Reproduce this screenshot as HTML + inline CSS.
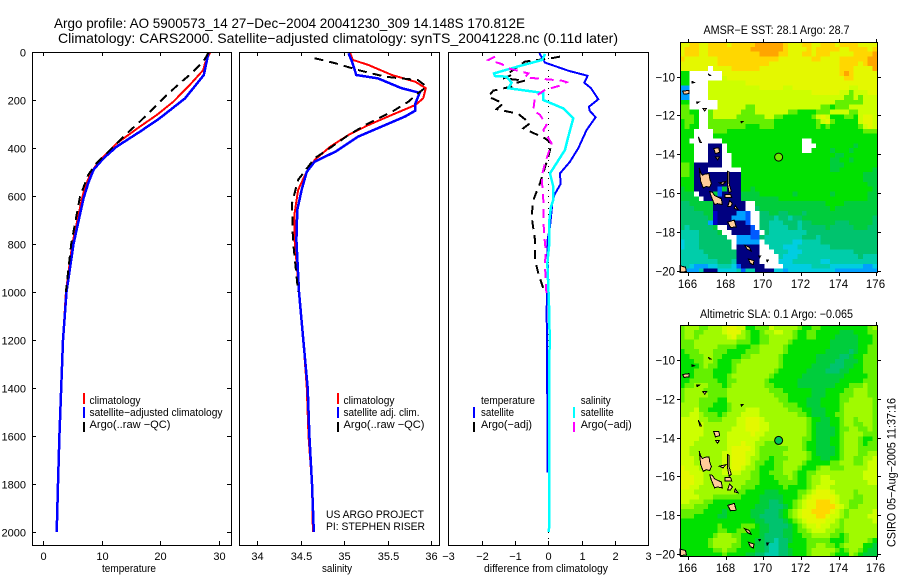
<!DOCTYPE html>
<html>
<head>
<meta charset="utf-8">
<title>Argo profile</title>
<style>
html,body{margin:0;padding:0;background:#fff}
svg{display:block}
text{font-family:"Liberation Sans",sans-serif;font-size:11px;fill:#000}
.t{font-size:14px}
.m{font-size:11.5px}
</style>
</head>
<body>
<svg id="chart" width="900" height="580" viewBox="0 0 900 580" xmlns="http://www.w3.org/2000/svg">
<rect width="900" height="580" fill="#fff"/>
<text class="t" x="54" y="28" textLength="471" lengthAdjust="spacingAndGlyphs">Argo profile: AO 5900573_14 27−Dec−2004 20041230_309 14.148S 170.812E</text>
<text class="t" x="58" y="43" textLength="560" lengthAdjust="spacingAndGlyphs">Climatology: CARS2000. Satellite−adjusted climatology: synTS_20041228.nc (0.11d later)</text>
<g id="layer"></g>
<g>
<text x="89.5" y="404" textLength="51" lengthAdjust="spacingAndGlyphs">climatology</text>
<text x="89.5" y="416" textLength="133" lengthAdjust="spacingAndGlyphs">satellite−adjusted climatology</text>
<text x="89.5" y="428" textLength="81" lengthAdjust="spacingAndGlyphs">Argo(..raw −QC)</text>
<rect x="83" y="393" width="2" height="11" fill="#f00"/><rect x="83" y="407" width="2" height="11" fill="#00f"/><rect x="83" y="422" width="2" height="10" fill="#000"/>
</g>
<g>
<text x="343.5" y="404" textLength="51" lengthAdjust="spacingAndGlyphs">climatology</text>
<text x="343.5" y="416" textLength="76" lengthAdjust="spacingAndGlyphs">satellite adj. clim.</text>
<text x="343.5" y="428" textLength="81" lengthAdjust="spacingAndGlyphs">Argo(..raw −QC)</text>
<rect x="337" y="393" width="2" height="11" fill="#f00"/><rect x="337" y="407" width="2" height="11" fill="#00f"/><rect x="337" y="422" width="2" height="10" fill="#000"/>
<text x="326" y="518" textLength="98" lengthAdjust="spacingAndGlyphs">US ARGO PROJECT</text>
<text x="326" y="530" textLength="99" lengthAdjust="spacingAndGlyphs">PI: STEPHEN RISER</text>
</g>
<g>
<text x="481" y="404" textLength="54" lengthAdjust="spacingAndGlyphs">temperature</text>
<text x="481" y="416" textLength="33" lengthAdjust="spacingAndGlyphs">satellite</text>
<text x="481" y="428" textLength="51" lengthAdjust="spacingAndGlyphs">Argo(−adj)</text>
<rect x="473" y="407" width="2" height="11" fill="#00f"/><rect x="473" y="422" width="2" height="10" fill="#000"/>
<text x="580.7" y="404" textLength="30" lengthAdjust="spacingAndGlyphs">salinity</text>
<text x="580.7" y="416" textLength="33" lengthAdjust="spacingAndGlyphs">satellite</text>
<text x="580.7" y="428" textLength="51" lengthAdjust="spacingAndGlyphs">Argo(−adj)</text>
<rect x="573" y="407" width="2" height="11" fill="#0ff"/><rect x="573" y="422" width="2" height="10" fill="#f0f"/>
</g>
<text x="129" y="572" text-anchor="middle" textLength="54" lengthAdjust="spacingAndGlyphs">temperature</text>
<text x="337" y="572" text-anchor="middle" textLength="30" lengthAdjust="spacingAndGlyphs">salinity</text>
<text x="546" y="572" text-anchor="middle" textLength="124" lengthAdjust="spacingAndGlyphs">difference from climatology</text>
<text class="m" x="776.5" y="34" text-anchor="middle" textLength="146" lengthAdjust="spacingAndGlyphs">AMSR−E SST: 28.1 Argo: 28.7</text>
<text class="m" x="776.5" y="318" text-anchor="middle" textLength="153" lengthAdjust="spacingAndGlyphs">Altimetric SLA: 0.1 Argo: −0.065</text>
<text class="m" transform="translate(895.5,547) rotate(-90)" textLength="149" lengthAdjust="spacingAndGlyphs">CSIRO 05−Aug−2005 11:37:16</text>
</svg>
<script>
// ---- profile data (depth in m) ----
const tempTicks = [0, 10, 20, 30];
const salTicks = ['34', '34.5', '35', '35.5', '36'];
const diffTicks = [-3, -2, -1, 0, 1, 2, 3];
const depthTicks = [0, 200, 400, 600, 800, 1000, 1200, 1400, 1600, 1800, 2000];
const lonTicks = [166, 168, 170, 172, 174, 176];
const latTicks = [-10, -12, -14, -16, -18, -20];

const tempClimDepth = [3,47,75,137,207,262,311,381,450,498,561,617,800,1000,1200,1400,1600,1800,2000];
const tempClim = [28.45,27.6,27.3,25,22.2,19.4,16.5,12.55,9.7,8.3,7.15,6.6,5,3.9,3.4,3.1,2.8,2.55,2.33];
const tempSatDepth = [3,96,193,276,332,394,443,491,547,610,800,1000,1200,1400,1600,1800,2000];
const tempSat = [28.2,27.4,24.2,19.9,16.5,12.55,10.3,8.6,7.7,6.9,5.2,4,3.4,3.1,2.8,2.55,2.33];
const tempArgoDepth = [3,40,89,130,186,235,290,346,422,464,512,603,800,1000];
const tempArgo = [28.2,27.3,25.3,23.3,20.8,18.8,16.5,14,10.85,9.1,7.7,6.3,4.8,3.9];

const salClimDepth = [5,33,54,96,124,151,193,221,262,304,346,394,450,512,575,672,783,1000,1200,1400,1600,1800,2000];
const salClim = [35.07,35.1,35.28,35.55,35.82,35.94,35.91,35.82,35.55,35.28,35.05,34.84,34.66,34.55,34.47,34.43,34.43,34.48,34.53,34.57,34.59,34.63,34.64];
const salSatDepth = [5,40,96,110,151,170,214,244,269,311,353,415,457,499,575,658,783,1000,1200,1400,1600,1800,2000];
const salSat = [35.05,35.09,35.14,35.39,35.66,35.87,35.82,35.82,35.7,35.43,35.16,34.9,34.66,34.57,34.51,34.46,34.45,34.48,34.53,34.58,34.6,34.63,34.65];
const salArgoDepth = [26,47,75,103,117,144,172,207,249,297,346,394,443,533,630,783,1000];
const salArgo = [34.66,34.9,35.16,35.47,35.85,35.95,35.85,35.74,35.55,35.28,35.05,34.86,34.66,34.47,34.4,34.41,34.47];

const dTempSatDepth = [5,44,78,99,128,151,197,228,244,272,325,401,457,506,550,596,631,686,728,783,867,950,1005,1089,1186,1753];
const dTempSat = [-0.27,-0.1,0.6,1.18,1.08,1.28,1.5,1.22,1.24,1.42,1.15,0.9,0.65,0.35,0.37,0.18,0.12,0.08,0.05,-0.02,-0.02,0,-0.04,-0.05,-0.04,-0.02];
const dTempArgoDepth = [19,26,40,89,96,110,119,130,144,161,186,214,238,258,297,318,360,381,408,436,547,617,686,783,867,922,985];
const dTempArgo = [0.35,0.1,-0.7,-1.2,-1.1,-1.35,-0.7,-1,-1.1,-1.65,-1.8,-1.35,-1.55,-0.9,-0.55,-0.75,-0.1,0.1,0.05,0,-0.25,-0.45,-0.5,-0.4,-0.4,-0.3,-0.15];
const dSalSatDepth = [8,33,58,89,100,103,128,151,168,172,200,235,276,353,408,506,561,617,644,714,811,881,978,1089,1186,1367,2000];
const dSalSat = [-0.1,-0.18,-0.85,-1.63,-1.6,-1.25,-1.1,-1.2,-0.3,-0.15,-0.15,0.45,0.75,0.6,0.5,0.05,0.15,0.15,0.08,0.02,0.02,-0.03,0,0.03,0.04,0.03,0.02];
const dSalArgoDepth = [19,33,50,68,89,106,119,126,142,158,186,242,262,304,325,381,464,519,617,697,767,822,892,978,1020];
const dSalArgo = [-1.6,-1.8,-1.4,-1.2,-0.6,-0.7,0.4,0.55,0.3,-0.1,-0.4,-0.45,-0.25,-0.05,-0.15,0.1,-0.1,-0.2,-0.15,-0.15,-0.12,-0.08,-0.1,-0.07,-0.05];

// ---- map data: level codes, 0.25 degree cells, north to south ----
const sstRows = [
"YYooYYooooYoooooOOOOOOoYYYooYYoooYooooYYYY",
"YoooYYoooooooooOOOOOOOoYYYYoYoooooYYooooYo",
"YoooYYoooooooooooOOOOooYYYooYoooYYYYYooooO",
"oYYYYYYYoooooooooooooYYYYYYYooYYYYooooooOO",
"YYYYYYYYoooooooooooYYYYYYYYYYYYYYYooooYoOO",
"YYYYYYWYYYYooooooYYYYYYYYYYYYYYYYYoooYYYYO",
"GGWWWWWWWYYYYYYYYYYYYYYYYYYYYYYYYYoOoYYYYY",
"GGWWWWWWWyYYYYYYYYYYYYYYYYYYYYYYYYYooYYYYY",
"GGWWWWyyyyyyyyYYYYYYYYYYYYYYYYYYYYYYYYYYYY",
"aaWWWWyyyyyyyyyyyYYYYYyyYYYYYYYYYYYYyyYYYY",
"aaWWWWyyyyyyyyyyyyyyyyyyyyyyYYYYYYyylyyyYY",
"aaWWWWyyyyyyyyyyyyyyyyyyyyyyyyyyyyyllylyyy",
"GGWWWWWWyyyyyyyyyyyyyyyyyyyyyyyyyllllllyyy",
"llWWWWWWyyyyyyllyyyyyyyyyyyyyyllGlllyyyyyy",
"llGGWWlyyyyyylllyyyyyyyllGGGGlllyyyyllyyyy",
"lllGWWlyyyyyllllllyyllGGGGGGlyYyGGGllGyYYy",
"GllGWWllllllllllllllGGGGGGGGGlyYlGGGGGyYYy",
"GlGGWWllllllllGGGlllGGGGGGGGGlGlGGGGGGlyYy",
"GGGWWWWlllGGGGGGGGGGGGGGGGGGGGGGGGGGGGGlll",
"GGGWWWWGGGGGGGGGGGGGGGGGGGGGGGGGGGGGGGGGGG",
"GGWWWWWWWGGGGGGGGGGGGGGGGGWWGGGGGGGGGGGGGG",
"GGGWWWnnnWGGGGGGGGGGGGGGGGWWWGGGGGGGGeGGGG",
"GGGWWWnnnWGGGGGGGGGGGGGGGGWWGGGGeGGGeGGGGG",
"GGGWWWnnnWWGGGGGGGGGGGGGGGGGGGGGGeeGGGGGGG",
"GGGWWWnnnWWGGGGGGGGGGGGGGGGGGGGGeeGGeGGGGG",
"llGnnnnnnWWGGGGGGGGGGGGGGGGGGGGGeeeGGGGGGG",
"llGnnnWWWWWWWGGGGGGGGGGGGGGGGGGGeeGGGGGGGe",
"llGnnnnnnnnnnGGGGGGGGGGGGGGGGGGGGGGGGGGeee",
"GGGnnnnnnnnnnGGGGGGGGGGGGGGGGGGGGGGGGGGeee",
"GGGnnnnnnnnnnGGGGGGGGGGGGGGGGGGGGGGGGGGGee",
"eGGnnnnnbennnGGeGGGGGGGGGGGGGGGGGGGGGGGGGe",
"eeeWnnnebnnnneeeeGGGGGGGeGGGGGGGeGGGGGGGee",
"eeeeWnndnnnnneeeeeeeeGGGGGGGGGGGGGGGGGGGee",
"sseeeeennnnnnnWWeeeeeeeeeeeeeeeGGGGeeeeeee",
"ssseeeennnnnnnWWseeeeeeeeeeeeeeeGeeeeeeeee",
"ssssseednnnnaabWWsseesseeeseeeeeeeeeeeeeee",
"ssssssednnnaaabWWssstsstsseeeeeeeeeeeeeees",
"ssssssadnnnnnnbWWsstttssstsseeeeessseeeees",
"stssssseWWnnnnnbWssttttsstsssssessssseeess",
"ttttsssseWWnnnnbbWsttttttttsssssssssssssss",
"ttttssssssWWaaabbsttttttttssstssssssssssss",
"ctttsssssssWaaaaaWttttttccttttssssssssssss",
"ctttsssssssWnnnnnWWtttccctttttttssssssssss",
"tttttsssssssnnnnnWWWtttccctttttttttttsssss",
"ttttttssssssnnnnnWWWWtccctttttttttttttsttt",
"ttttttttssstnnnnnWWWWcccttttttcctttttttttt",
"ttcaaacctttcbnnnnnWWWWccccccttttcccccccaac",
"taaatnnncccctbttnnnnccaccccccccccaaaaaaaaa"
];
const slaRows = [
"lmmmllmmmyYYyyGGlllymmmmmlGGllGGGGGGGGGGlm",
"lmmllmmmmyYYYmlGGlmmyymmlGGllGGGGGeeeGGGll",
"lmmlmmmmmmyYmmlGGllmmmmmlGGllGGGGeeeeeGGGl",
"lllmmmmmmmmmlllGGllmmmmlGGGGGGGGeeeeeeGGGl",
"lllmmmmmllllGGGllmmmmmlGGGGGGGGGeeeeeeGGll",
"GlllmmmlllGGGGlllmmmmmlGGGGGGGGeeeeeseGGll",
"GGlllmmllGGGGllmmmmmmlGGGGGGGeeeeesseGGlll",
"GGGllmmlGGGllmmmmmmmmlGGGGGGGeeeesseeeGlll",
"GGGGlmllGGGlmmmmmmmmmlGGGGGGeeeessseeGGlll",
"GGGllllGGGGlmmmmmmmmlGGGGGGeeeessseeGGGlll",
"GGGllllGGGlmmmmmmmmlGGGGGGeeeeeeeeeGGGGGll",
"GGllllllGGllmmmmmmlGGGGGGeeeeeeeeeGGGGGlll",
"GllmmmlllGlmmmmmmmllGGGGGeeeeeeeeGGGlllmll",
"lmmmmlllllmmmmmmmmmlllGGGGGGeeeGGGGllmmmll",
"lmmmmmllllmmmmmmmmmmlllGGGGGeeeGGGlllmmmll",
"lmmmllllGGmmmmmmmmmmmllGGGGeeeGGGGllmmmmml",
"mmmmlllGGGlmmmmmmmmmmmlllGGeeeGGGGlmmmmmml",
"mmmyllGGGGlmmmyyymmmmmmlllGGeeeGGGlmmmmmml",
"mmyymlllGlmmmyyyymmmmmmmmllGeeeGGllmmmmmml",
"yyyymmlllmmmyyYYYymmmmmmmmmlGGeeGGlmmlmmml",
"yyyyymmmmmmmyyYYYyymmmmmmmmlGeeeGGlmmllmml",
"yyyyymmmmmmyyyYYYyymmmmmmmmlGeeeeGllmmllml",
"yyyyymmmmmyyyyyYyymmmmmmmmmlGeeeeGlmmmmlll",
"yyyymmmmmmyyyyyyymmmmmmmmmllGeeeGGlmmmlGGl",
"yyymmmmmmmyyyYyymmlllmmmmmlGGeeeGGlmmmlGll",
"yymmmmmmmmyYYYYymllllllmmmlGGeeeeGlmmmllll",
"yymmmmmmmyyYYYyymlllllmmmmmlGeeeeGlmmmllmm",
"yyymmmmmmyyYYYymmllGlllmmmmlGGeeGGlmmllmmy",
"yyymmmmmmyyYYYymllGGllmmmmlGGGGGllmmmllmyy",
"YyyymmmmmyyYYymmlGGGllmmmlGGGlmmlllmmmmmyy",
"YYyyymmmmyyyymmllGGlllmmlGGllmmmmmmmmmmyyy",
"YYYyymmmmmmmmmmllGGGlllmlGGlmmyymmmmmmmyyy",
"YYYyymmmmmmmmmlllGGGGllllGGlmmyyymmmmmmmyy",
"YYyymmmmmmmmmlllGGGGGGlGGGGlmyyymmmmmmmmmm",
"yyymmmmmmmmmllGGGGeeeGGGGllmyYYYymmmmlmmmm",
"yyyymmmllllllGGGGeeeeeGGGlmyYYYYYymmmllmmm",
"yymmmllGGGGGGGGGGeesseGGlmyYYoooYymmlllmmm",
"mmmlllGGGGGGGGGGeeessseGlmyYYooooYymllmmmm",
"lllllGGGGeGGGGGeeessseGlmyYYooooYymlmmmmmy",
"lllGGGGGeeGGGGGeesssseGlmyYYYooYyymlmmmmyy",
"GGGGGGGGGGGGGGGGeesssseGlmyYYYYyymlmmmmmmy",
"GGGGGGGGlGGGGlllGeesssseGlmyyYyymmlmmmmmmm",
"GGGGGGGGllGGlllGGeessseeGllmyyymmllmmmmmmm",
"GGGGGGGlmmmllGGGGesssseeGGllmmmmllGlmmmmmm",
"GGGGGGlmmmmmlGGGeesstsseGGGlllllGGGlmmmmlG",
"GGGGGGlmmmmllGGGeesttssGGGGllmmllGlmmmmGGe",
"GGGGGGGllmllGGGGeesttsseGGGlmmmmmlGlmmlGee",
"GGGGGGGGGlGGGGeesstttsseGGGlmmmmlGGGmlGeee"
];
// island outlines as lon,lat pairs
const islands = [
[[166.58,-14.7],[166.66,-14.95],[166.75,-15.08],[166.9,-15.02],[167.1,-15.0],[167.15,-15.3],[167.23,-15.5],[167.14,-15.7],[166.95,-15.66],[166.8,-15.75],[166.66,-15.4]],
[[167.14,-15.93],[167.28,-15.95],[167.4,-16.13],[167.76,-16.3],[167.81,-16.6],[167.55,-16.55],[167.4,-16.6],[167.23,-16.2]],
[[168.09,-14.88],[168.18,-14.93],[168.16,-15.48],[168.29,-15.91],[168.18,-16.0],[168.09,-15.57]],
[[167.65,-15.48],[168.0,-15.4],[167.85,-15.57]],
[[167.95,-16.07],[168.25,-16.07],[168.31,-16.24],[167.95,-16.24]],
[[168.2,-16.4],[168.35,-16.55],[168.25,-16.7],[168.1,-16.7]],
[[168.5,-16.65],[168.65,-16.85],[168.45,-16.8]],
[[168.1,-17.5],[168.45,-17.4],[168.55,-17.75],[168.25,-17.78]],
[[169.0,-18.7],[169.25,-18.8],[169.35,-19.0],[169.14,-18.9]],
[[169.2,-19.4],[169.5,-19.5],[169.46,-19.7],[169.3,-19.63]],
[[165.7,-10.75],[166.05,-10.7],[166.05,-10.87],[165.77,-10.9]],
[[166.77,-11.63],[166.97,-11.63],[166.88,-11.77]],
[[167.35,-13.7],[167.62,-13.68],[167.67,-13.9],[167.45,-13.97]],
[[167.45,-14.15],[167.65,-14.15],[167.56,-14.3]],
[[166.53,-13.1],[166.7,-13.4],[166.62,-13.4]],
[[166.44,-11.3],[166.58,-11.3],[166.47,-11.38]],
[[167.06,-9.85],[167.2,-9.95],[167.12,-9.95]],
[[166.2,-10.25],[166.33,-10.3],[166.2,-10.33]],
[[168.8,-12.3],[168.92,-12.3],[168.83,-12.38]],
[[169.75,-19.25],[169.85,-19.25],[169.8,-19.33]],
[[170.17,-19.45],[170.27,-19.45],[170.2,-19.55]],
[[165.55,-19.75],[165.85,-19.83],[165.9,-20.05],[165.55,-20.1]]
];
const argoLon = 170.81;
const argoLat = -14.15;
const sstMarkerColor = 'rgb(110,235,0)';
const slaMarkerColor = 'rgb(0,195,90)';

// ---- drawing ----
const NS = 'http://www.w3.org/2000/svg';
const layer = document.getElementById('layer');
function mk(tag, attrs, parent, txt) {
  const e = document.createElementNS(NS, tag);
  for (const k in attrs) e.setAttribute(k, attrs[k]);
  if (txt !== undefined) e.textContent = txt;
  (parent || layer).appendChild(e);
  return e;
}
const yDepth = d => 52 + d * 0.24;
const xTemp = v => 43 + v * 5.87;
const xSal = v => 257.3 + (v - 34) * 86.85;
const xDiff = v => 548.3 + v * 33.33;

function profile(name, xf, ds, vs, color, dash, parent, w) {
  const pts = vs.map((v, i) => xf(v).toFixed(1) + ',' + yDepth(ds[i]).toFixed(1)).join(' ');
  const a = {points: pts, fill: 'none', stroke: color, 'stroke-width': w || 2, 'shape-rendering': 'crispEdges'};
  if (dash) a['stroke-dasharray'] = dash;
  const el = mk('polyline', a, parent);
  
  
}
function box(name, x0, y0, x1, y1) {
  const el = mk('rect', {x: x0 + .5, y: y0 + .5, width: x1 - x0, height: y1 - y0, fill: 'none', stroke: '#000', 'stroke-width': 1, 'shape-rendering': 'crispEdges'});
  
  
}
function tick(x1, y1, x2, y2) {
  mk('line', {x1: x1, y1: y1, x2: x2, y2: y2, stroke: '#000', 'stroke-width': 1, 'shape-rendering': 'crispEdges'});
}
function xAxisTicks(vals, xf, top, bottom, labelFn) {
  vals.forEach(v => {
    const x = Math.round(xf(+v)) + .5;
    tick(x, top, x, top + 4);
    tick(x, bottom, x, bottom - 4);
    const t = mk('text', {x: x, y: 560, 'text-anchor': 'middle'}, layer, labelFn(v));
    
    
  });
}

// temperature panel
const gT = mk('g', {});


profile('temperature-climatology-line', xTemp, tempClimDepth, tempClim, '#f00', null, gT);
profile('temperature-satellite-line', xTemp, tempSatDepth, tempSat, '#00f', null, gT, 2.5);
profile('temperature-argo-line', xTemp, tempArgoDepth, tempArgo, '#000', '9 6', gT);
box('temperature-plot-frame', 32, 52, 231, 545);
xAxisTicks(tempTicks, xTemp, 52, 545, v => String(v));
depthTicks.forEach(d => {
  const y = Math.round(yDepth(d)) + .5;
  tick(32, y, 36, y);
  tick(231, y, 227, y);
  const t = mk('text', {x: 26, y: y + 4, 'text-anchor': 'end'}, layer, String(d));
  
  
});

// salinity panel
const gS = mk('g', {});


profile('salinity-climatology-line', xSal, salClimDepth, salClim, '#f00', null, gS);
profile('salinity-satellite-line', xSal, salSatDepth, salSat, '#00f', null, gS, 2.5);
profile('salinity-argo-line', xSal, salArgoDepth, salArgo, '#000', '9 6', gS);
box('salinity-plot-frame', 239, 52, 439, 545);
xAxisTicks(salTicks, xSal, 52, 545, v => v);

// difference panel
const gD = mk('g', {});


const zero = mk('line', {x1: xDiff(0), y1: 52, x2: xDiff(0), y2: 545, stroke: '#000', 'stroke-width': 1, 'stroke-dasharray': '1 5', 'shape-rendering': 'crispEdges'}, gD);


profile('temperature-difference-satellite-line', xDiff, dTempSatDepth, dTempSat, '#00f', null, gD);
profile('temperature-difference-argo-line', xDiff, dTempArgoDepth, dTempArgo, '#000', '9 6', gD);
profile('salinity-difference-satellite-line', xDiff, dSalSatDepth, dSalSat, '#0ff', null, gD, 2.5);
profile('salinity-difference-argo-line', xDiff, dSalArgoDepth, dSalArgo, '#f0f', '9 6', gD);
box('difference-plot-frame', 448, 52, 648, 545);
xAxisTicks(diffTicks, xDiff, 52, 545, v => String(v).replace('-', '−'));

// maps
const levelColors = {
  W: '#ffffff', n: 'rgb(0,0,128)', d: 'rgb(0,0,200)', b: 'rgb(0,90,255)', a: 'rgb(0,160,255)',
  c: 'rgb(0,205,225)', t: 'rgb(0,205,170)', s: 'rgb(0,195,110)', e: 'rgb(0,205,60)', G: 'rgb(0,225,0)',
  l: 'rgb(100,240,0)', m: 'rgb(160,250,0)', y: 'rgb(205,255,0)', Y: 'rgb(228,248,0)', o: 'rgb(255,215,0)', O: 'rgb(255,165,0)'
};
function drawMap(prefix, rows, top, bottom, lat10Y, markerColor, labelY) {
  const left = 680, right = 877;
  const xLon = lon => 688.3 + (lon - 166) * 18.78;
  const yLat = lat => lat10Y + (-10 - lat) * 19.38;
  const g = mk('g', {});
  
  
  const cw = (right - left) / 42, ch = (bottom - top) / 47.7;
  rows.forEach((row, j) => {
    for (let i = 0; i < 42; i++) {
      const code = row[Math.min(i, row.length - 1)];
      const x0 = left + i * cw, y0 = top + j * ch;
      const c = mk('rect', {x: x0.toFixed(1), y: y0.toFixed(1), width: (cw + .3).toFixed(1), height: (Math.min(ch, bottom - y0) + .3).toFixed(1), fill: levelColors[code], 'shape-rendering': 'crispEdges'}, g);
      
      
    }
  });
  islands.forEach(isl => {
    const p = mk('polygon', {points: isl.map(q => xLon(q[0]).toFixed(1) + ',' + yLat(q[1]).toFixed(1)).join(' '), fill: '#ffcc99', stroke: '#000', 'stroke-width': 1, 'shape-rendering': 'crispEdges'}, g);
    
    
  });
  const marker = mk('circle', {cx: xLon(argoLon), cy: yLat(argoLat), r: 4, fill: markerColor, stroke: '#000', 'stroke-width': 1}, g);
  
  
  box(prefix + '-map-frame', left, top, right, bottom);
  lonTicks.forEach(v => {
    const x = Math.round(xLon(v)) + .5;
    tick(x, top, x, top - 3);
    tick(x, bottom, x, bottom + 4);
    const t = mk('text', {x: x - 1, y: labelY, 'text-anchor': 'middle', 'class': 'm'}, layer, String(v));
    
    
  });
  latTicks.forEach(v => {
    const y = Math.round(yLat(v)) + .5;
    tick(left, y, left - 3, y);
    tick(right, y, right + 4, y);
    const t = mk('text', {x: 675, y: y + 4, 'text-anchor': 'end', 'class': 'm'}, layer, String(v).replace('-', '−'));
    
    
  });
}
drawMap('sst', sstRows, 42, 272, 76.7, sstMarkerColor, 288);
drawMap('sla', slaRows, 325, 556, 360, slaMarkerColor, 572);
</script>
</body>
</html>
